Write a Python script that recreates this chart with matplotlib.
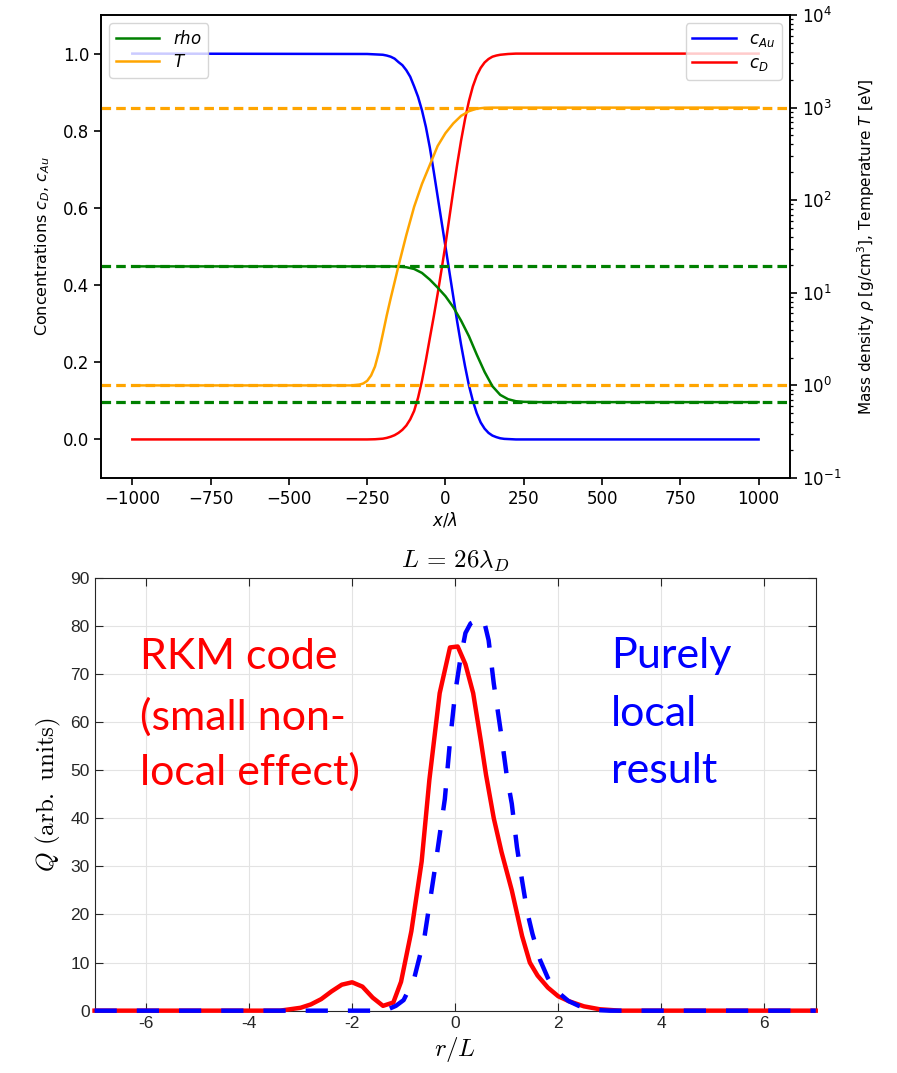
import matplotlib.pyplot as plt

# ---- upper panel: profiles across the Au/D interface ----
x_conc = [-1000, -250, -225, -200, -187.5, -175, -162.5, -150, -137.5, -125, -112.5, -100,
          -87.5, -75, -62.5, -50, -37.5, -25, -12.5, 0, 12.5, 25, 37.5, 50, 62.5, 75,
          87.5, 100, 112.5, 125, 137.5, 150, 162.5, 175, 187.5, 200, 225, 1000]
c_au = [1.0, 0.999, 0.998, 0.997, 0.995, 0.992, 0.987, 0.978, 0.97, 0.957, 0.94, 0.915,
        0.888, 0.853, 0.81, 0.757, 0.695, 0.63, 0.565, 0.5, 0.435, 0.37, 0.305, 0.245, 0.19, 0.14,
        0.1, 0.068, 0.044, 0.028, 0.017, 0.01, 0.006, 0.003, 0.0015, 0.001, 0.0, 0.0]
c_d = [0.0, 0.0, 0.0005, 0.002, 0.004, 0.007, 0.011, 0.017, 0.025, 0.036, 0.052, 0.074,
       0.108, 0.152, 0.205, 0.262, 0.318, 0.377, 0.44, 0.505, 0.575, 0.645, 0.713, 0.775, 0.83, 0.877,
       0.915, 0.943, 0.963, 0.977, 0.986, 0.992, 0.995, 0.997, 0.998, 0.999, 1.0, 1.0]

x_rho = [-1000, -175, -150, -125, -100, -75, -50, -25, 0, 25, 50, 75, 100, 125,
         150, 175, 200, 225, 250, 300, 1000]
rho = [19.3, 19.3, 19.2, 18.9, 18.1, 16.4, 13.9, 11.4, 9.2, 7.0, 5.0, 3.4, 2.15, 1.4,
       0.98, 0.79, 0.71, 0.675, 0.665, 0.66, 0.66]

x_temp = [-1000, -300, -275, -262.5, -250, -237.5, -225, -212.5, -200, -187.5, -175, -162.5,
          -150, -125, -100, -75, -50, -25, 0, 25, 50, 75, 100, 125, 150, 175, 1000]
temp = [1.0, 1.0, 1.02, 1.05, 1.12, 1.28, 1.6, 2.3, 3.6, 5.7, 8.7, 13,
        19.5, 42, 85, 150, 240, 385, 530, 675, 815, 915, 975, 995, 1000, 1000, 1000]

rho_levels = [19.3, 0.66]
temp_levels = [1.0, 1000.0]

# ---- lower panel: heating profile ----
r_rkm = [-7.0, -3.4, -3.0, -2.8, -2.6, -2.4, -2.2, -2.0, -1.8, -1.6, -1.4, -1.2, -1.05,
         -0.85, -0.65, -0.5, -0.3, -0.1, 0.05, 0.2, 0.35, 0.5, 0.6, 0.75, 0.9, 1.1, 1.3,
         1.45, 1.6, 1.8, 2.0, 2.2, 2.5, 2.8, 3.2, 7.0]
q_rkm = [0, 0, 0.6, 1.3, 2.4, 4.0, 5.4, 5.9, 5.0, 2.7, 1.0, 1.7, 6.0,
         16.5, 31, 48, 66, 75.5, 75.7, 72, 66, 56, 49, 40, 33, 25, 15.5,
         10, 7.3, 4.8, 3.0, 2.0, 0.9, 0.3, 0, 0]
r_loc = [-7.0, -1.5, -1.3, -1.15, -1.0, -0.8, -0.6, -0.4, -0.2, -0.1, 0.0, 0.1, 0.2, 0.3,
         0.45, 0.55, 0.65, 0.75, 0.9, 1.0, 1.1, 1.2, 1.3, 1.4, 1.5, 1.65, 1.8, 1.9, 2.0,
         2.2, 2.4, 2.6, 2.8, 3.0, 7.0]
q_loc = [0, 0, 0.3, 1.0, 2.2, 6.5, 15, 29, 44, 56, 66, 73, 78.5, 80.5,
         81.3, 81.5, 77, 68, 57, 49, 43, 34, 27, 20.5, 16, 10.5, 6.8, 5.0, 3.8,
         2.0, 1.0, 0.4, 0.1, 0, 0]
q_xticks = list(range(-6, 7, 2))
q_xticklabels = [str(v) for v in q_xticks]

fig = plt.figure(figsize=(8.97, 10.73), dpi=100)

ax1 = fig.add_axes([0.1126, 0.5545, 0.768, 0.4315])
ax1.plot(x_conc, c_au, color='blue', lw=1.8, label='$c_{Au}$')
ax1.plot(x_conc, c_d, color='red', lw=1.8, label='$c_D$')
ax1.set_xlim(-1100, 1100)
ax1.set_ylim(-0.1, 1.1)
ax1.set_xticks(range(-1000, 1001, 250))
ax1.set_yticks([0, 0.2, 0.4, 0.6, 0.8, 1.0])
ax1.tick_params(labelsize=12, length=5, width=1.2)
ax1.set_xlabel(r'$x/\lambda$', fontsize=12, labelpad=2)
ax1.set_ylabel(r'Concentrations $c_D$, $c_{Au}$', fontsize=11.5, labelpad=8)
ax1.legend(loc='upper right', fontsize=12, handlelength=2.6, labelspacing=0.3)

ax2 = ax1.twinx()
ax2.set_yscale('log')
ax2.set_ylim(0.1, 1e4)
for v in rho_levels:
    ax2.axhline(v, color='green', ls='--', lw=2.3, dashes=(3.0, 1.6))
for v in temp_levels:
    ax2.axhline(v, color='orange', ls='--', lw=2.3, dashes=(3.0, 1.6))
ax2.plot(x_rho, rho, color='green', lw=1.8, label='$rho$')
ax2.plot(x_temp, temp, color='orange', lw=1.8, label='$T$')
ax2.tick_params(labelsize=12, length=5, width=1.2)
ax2.tick_params(which='minor', length=2.5, width=0.9)
ax2.set_ylabel(r'Mass density $\rho$ [g/cm$^3$], Temperature $T$ [eV]', fontsize=11, labelpad=10)
ax2.legend(loc='upper left', fontsize=12, handlelength=2.6, labelspacing=0.3)
for ax in (ax1, ax2):
    for s in ax.spines.values():
        s.set_linewidth(1.2)

# lower panel
ax3 = fig.add_axes([0.1054, 0.0581, 0.804, 0.4035])
ax3.plot(r_rkm, q_rkm, color='red', lw=3.2, clip_on=False, zorder=3)
ax3.plot(r_loc, q_loc, color='blue', lw=3.2, dashes=(5, 4.5), clip_on=False, zorder=4)
ax3.set_xlim(-7, 7)
ax3.set_ylim(0, 90)
ax3.set_xticks(q_xticks)
ax3.set_xticklabels(q_xticklabels)
ax3.set_yticks(range(0, 91, 10))
ax3.grid(True, color='#e3e3e3', lw=0.8)
ax3.set_axisbelow(True)
ax3.tick_params(direction='in', top=True, right=True, length=5.5, width=0.8,
                colors='#262626', labelsize=12.5, labelfontfamily='Liberation Sans')
for s in ax3.spines.values():
    s.set_color('#262626')
    s.set_linewidth(0.8)
ax3.set_title(r'$L\, =\, 26\lambda_D$', fontsize=18, math_fontfamily='cm', pad=7)
ax3.set_xlabel(r'$r/L$', fontsize=18, math_fontfamily='cm', labelpad=3)
ax3.set_ylabel(r'$Q\ \mathrm{(arb.\ units)}$', fontsize=18, math_fontfamily='cm', labelpad=5)

for y, line in zip([71.0, 58.3, 46.9], ['RKM code', '(small non-', 'local effect)']):
    ax3.text(-6.12, y, line, color='red', fontsize=31, family='Lato', va='baseline')
for y, line in zip([71.2, 59.2, 47.3], ['Purely', 'local', 'result']):
    ax3.text(3.03, y, line, color='blue', fontsize=31, family='Lato', va='baseline')

fig.savefig('out.png', dpi=100)
